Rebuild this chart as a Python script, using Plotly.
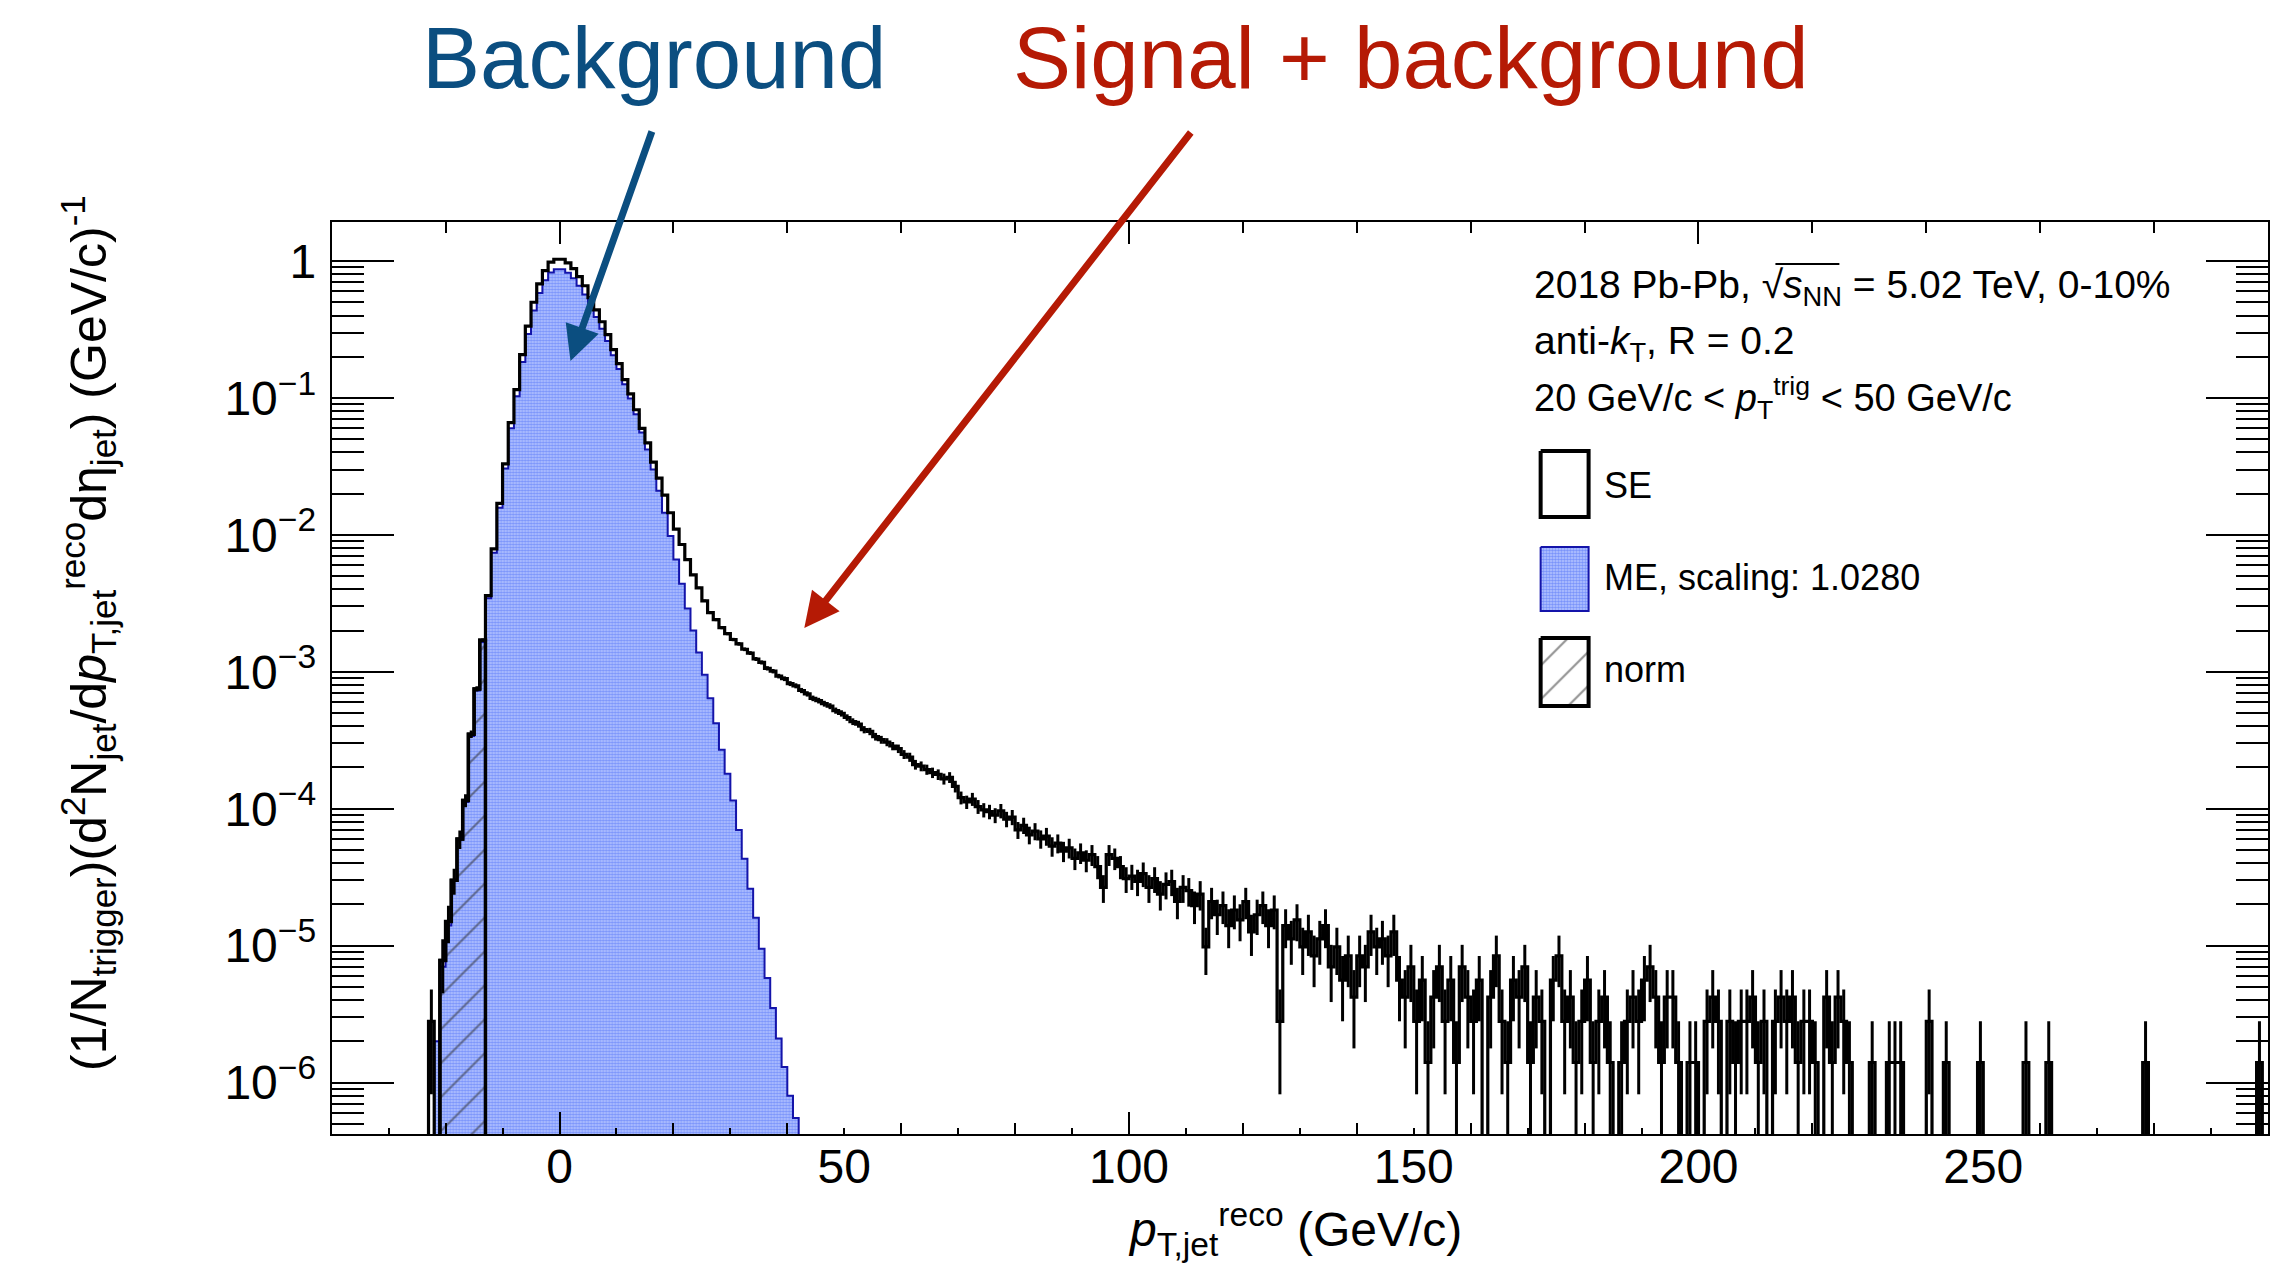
import numpy as np
import plotly.graph_objects as go

# ---------------------------------------------------------------------------
# data: per-trigger jet yields in 1 GeV/c bins
# ---------------------------------------------------------------------------
X_MIN, X_MAX = -40, 300
BIN_W = 1

# same-event spectrum, bins starting at -23 GeV/c
se_core_start = -23
se_core = [
    2.8e-6, 0.0, 7.8e-6, 1.5e-5, 3.0e-5, 6.0e-5, 1.15e-4, 3.5e-4, 7.5e-4, 1.7e-3,
    3.6e-3, 7.9e-3, 0.017, 0.033, 0.066, 0.115, 0.207, 0.335, 0.50, 0.68,
    0.85, 0.98, 1.03, 1.03, 0.97, 0.88, 0.77, 0.66, 0.54, 0.44,
    0.36, 0.29, 0.225, 0.178, 0.136, 0.107, 0.082, 0.060, 0.047, 0.034,
    0.026, 0.0195, 0.0145, 0.011, 0.0085, 0.0066, 0.0051, 0.0041, 0.0033, 0.0027,
    0.0024, 0.0021, 0.0019, 0.00172, 0.0016, 0.00146, 0.00137, 0.00124, 0.00117, 0.00106,
    0.00101, 0.00093, 0.00089, 0.00082, 0.00079, 0.00073, 0.00069, 0.00064,
]

# same-event tail from 45 GeV/c on, as jet counts per bin
se_tail_start = 45
count_unit = 1.4e-6  # per-trigger yield of one jet in one bin
se_tail_counts = [
    440, 418, 401, 372, 355, 331, 309, 296, 270, 262,
    240, 228, 219, 205, 196, 178, 170, 150, 146, 138,
    131, 127, 118, 121, 104, 86, 80, 84, 74, 70,
    68, 64, 69, 60, 62, 50, 54, 46, 49, 43,
    45, 38, 40, 35, 37, 31, 34, 30, 33, 27,
    19, 33, 31, 27, 22, 23, 21, 24, 19, 22,
    17, 20, 21, 15, 19, 18, 14, 17, 7, 15,
    12, 14, 10, 13, 11, 15, 9, 12, 14, 10,
    13, 2, 10, 8, 11, 7, 9, 6, 8, 10,
    5, 7, 4, 6, 3, 6, 5, 9, 7, 8,
    6, 9, 4, 3, 5, 2, 4, 1, 3, 5,
    2, 4, 1, 5, 3, 2, 4, 0, 3, 6,
    2, 1, 4, 3, 5, 1, 3, 2, 0, 4,
    6, 2, 3, 1, 2, 4, 1, 2, 3, 1,
    0, 1, 2, 3, 2, 4, 5, 3, 1, 3,
    3, 1, 0, 1, 1, 0, 2, 3, 2, 0,
    2, 1, 2, 2, 3, 1, 2, 0, 2, 3,
    2, 3, 1, 2, 2, 1, 0, 3, 1, 3,
    2, 1, 0, 0, 0, 1, 0, 0, 1, 1,
    1, 0, 0, 0, 0, 2, 0, 0, 1, 0,
    0, 0, 0, 0, 1, 0, 0, 0, 0, 0,
    0, 0, 1, 0, 0, 0, 1, 0, 0, 0,
    0, 0, 0, 0, 0, 0, 0, 0, 0, 0,
    0, 0, 0, 1, 0, 0, 0, 0, 0, 0,
    0, 0, 0, 0, 0, 0, 0, 0, 0, 0,
    0, 0, 0, 1, 0,
]

# mixed-event spectrum (scaled by 1.0280), bins starting at -22 GeV/c
me_start = -22
me_vals = [
    2.0e-6, 7.0e-6, 1.4e-5, 3.0e-5, 6.0e-5, 1.12e-4, 3.4e-4, 7.3e-4, 1.65e-3, 3.45e-3,
    7.4e-3, 0.0158, 0.0305, 0.060, 0.103, 0.183, 0.293, 0.435, 0.585, 0.725,
    0.825, 0.87, 0.87, 0.82, 0.75, 0.66, 0.57, 0.47, 0.39, 0.32,
    0.26, 0.205, 0.163, 0.126, 0.099, 0.076, 0.056, 0.042, 0.030, 0.021,
    0.0145, 0.0098, 0.0066, 0.0044, 0.0029, 0.0020, 0.00138, 0.00095, 0.00064, 0.00042,
    0.00027, 0.00018, 0.000115, 7.0e-5, 4.3e-5, 2.6e-5, 1.6e-5, 9.5e-6, 5.8e-6, 3.5e-6,
    2.1e-6, 1.3e-6, 8.0e-7, 5.5e-7,
]

# normalisation window (GeV/c)
norm_lo, norm_hi = -21, -13

x_tick_vals = [0, 50, 100, 150, 200, 250]
y_tick_exps = [-6, -5, -4, -3, -2, -1, 0]

# ---------------------------------------------------------------------------
# histogram assembly
# ---------------------------------------------------------------------------
edges = np.arange(X_MIN, X_MAX + BIN_W, BIN_W)
n_bins = len(edges) - 1
se = np.zeros(n_bins)
i0 = se_core_start - X_MIN
se[i0:i0 + len(se_core)] = se_core
i1 = se_tail_start - X_MIN
se[i1:i1 + len(se_tail_counts)] = np.array(se_tail_counts) * count_unit

me = np.zeros(n_bins)
j0 = me_start - X_MIN
me[j0:j0 + len(me_vals)] = me_vals

FLOOR = 1e-9  # far below the visible range on the log axis


def step_outline(lo_edges, vals):
    xs, ys = [], []
    for e, v in zip(lo_edges, vals):
        y = v if v > 0 else FLOOR
        xs += [e, e + BIN_W]
        ys += [y, y]
    return xs, ys


def closed_step(lo_edges, vals):
    xs, ys = step_outline(lo_edges, vals)
    return [xs[0]] + xs + [xs[-1], xs[0]], [FLOOR] + ys + [FLOOR, FLOOR]


lo = edges[:-1]
se_x, se_y = step_outline(lo, se)
me_mask = me > 0
me_x, me_y = closed_step(lo[me_mask], me[me_mask])
nmask = (lo >= norm_lo) & (lo < norm_hi)
nx, ny = closed_step(lo[nmask], se[nmask])

# statistical error bars of the same-event spectrum
ex, ey = [], []
for e, v in zip(lo, se):
    if v <= 0:
        continue
    err = np.sqrt(v / count_unit) * count_unit
    lo_v = v - err if v - err > 0 else FLOOR
    c = e + BIN_W / 2
    ex += [c, c, None]
    ey += [lo_v, v + err, None]

# ---------------------------------------------------------------------------
# figure
# ---------------------------------------------------------------------------
W, H = 2270, 1280
FONT = "Liberation Sans, Arial, Helvetica, sans-serif"
ME_DOTS = dict(shape=".", fgcolor="rgb(60,95,245)", bgcolor="rgb(185,200,255)",
               size=3, solidity=0.6)
ME_FILL = "rgb(140,162,250)"
ME_LINE = "rgb(20,20,170)"
HATCH = dict(shape="/", fgcolor="rgb(40,40,40)", bgcolor="rgba(0,0,0,0)",
             size=24, solidity=0.09)
BLUE = "#0b4e80"
RED = "#b51a05"

# plot frame in pixels
FL, FR, FT, FB = 332, 2270, 222, 1134
xdom = [FL / W, FR / W]
ydom = [1 - FB / H, 1 - FT / H]
yr = [-6.376, 0.285]

fig = go.Figure()

fig.add_trace(go.Scatter(
    x=me_x, y=me_y, mode="lines", fill="toself", fillcolor=ME_FILL,
    fillpattern=ME_DOTS, line=dict(color=ME_LINE, width=2), hoverinfo="skip"))
fig.add_trace(go.Scatter(
    x=nx, y=ny, mode="lines", fill="toself", fillcolor="rgba(0,0,0,0)",
    fillpattern=HATCH, line=dict(color="black", width=3.5), hoverinfo="skip"))
fig.add_trace(go.Scatter(
    x=se_x, y=se_y, mode="lines", line=dict(color="black", width=3.2),
    hoverinfo="skip"))
fig.add_trace(go.Scatter(
    x=ex, y=ey, mode="lines", line=dict(color="black", width=3),
    connectgaps=False, hoverinfo="skip"))

# empty trace so the tick-only overlay axis is drawn
fig.add_trace(go.Scatter(x=[None], y=[None], xaxis="x2", yaxis="y", showlegend=False))


# legend swatches drawn on a pixel canvas covering the whole page
def rect(x0, y0, x1, y1):
    return [x0, x1, x1, x0, x0], [y0, y0, y1, y1, y0]


sx, sy = rect(1542, 451, 1590, 517)
fig.add_trace(go.Scatter(x=sx, y=sy, mode="lines", line=dict(color="black", width=4),
                         xaxis="x4", yaxis="y4", hoverinfo="skip"))
mx, my = rect(1542, 547, 1590, 611)
fig.add_trace(go.Scatter(x=mx, y=my, mode="lines", fill="toself", fillcolor=ME_FILL,
                         fillpattern=ME_DOTS, line=dict(color=ME_LINE, width=2),
                         xaxis="x4", yaxis="y4", hoverinfo="skip"))
hx, hy = rect(1542, 638, 1590, 706)
fig.add_trace(go.Scatter(x=hx, y=hy, mode="lines", fill="toself", fillcolor="rgba(0,0,0,0)",
                         fillpattern=HATCH, line=dict(color="black", width=4),
                         xaxis="x4", yaxis="y4", hoverinfo="skip"))

ann = []


def text(x, y, s, size, color="black", xanchor="left", angle=0):
    ann.append(dict(x=x, y=y, xref="x4", yref="y4", text=s, showarrow=False,
                    xanchor=xanchor, yanchor="middle", textangle=angle,
                    font=dict(family=FONT, size=size, color=color)))


text(655, 57, "Background", 87, BLUE, "center")
text(1412, 57, "Signal + background", 87, RED, "center")

for tip, tail, col in [((571, 361), (653, 130), BLUE), ((805, 628), (1193, 131), RED)]:
    ann.append(dict(x=tip[0], y=tip[1], ax=tail[0], ay=tail[1], xref="x4", yref="y4",
                    axref="x4", ayref="y4", text="", showarrow=True, arrowhead=2,
                    arrowsize=1.0, arrowwidth=7, arrowcolor=col, standoff=0))

text(1533, 287, "2018 Pb-Pb, √<i>s</i><sub>NN</sub> = 5.02 TeV, 0-10%", 39)
text(1533, 343, "anti-<i>k</i><sub>T</sub>, R = 0.2", 39)
text(1533, 398, "20 GeV/c < <i>p</i><sub>T</sub><sup>trig</sup> < 50 GeV/c", 38)
text(1603, 485, "SE", 36)
text(1603, 577, "ME, scaling: 1.0280", 36)
text(1603, 669, "norm", 36)

text(88, 633, "(1/N<sub>trigger</sub>)(d<sup>2</sup>N<sub>jet</sub>/d<i>p</i>"
     "<sub>T,jet</sub><sup>reco</sup>dη<sub>jet</sub>) (GeV/c)<sup>-1</sup>",
     50, xanchor="center", angle=-90)
text(1296, 1229, "<i>p</i><sub>T,jet</sub><sup>reco</sup> (GeV/c)", 48, xanchor="center")

shapes = [dict(type="line", xref="x4", yref="y4", x0=1777, x1=1841, y0=264, y1=264,
               line=dict(color="black", width=2))]

minor_y = [k * 10.0 ** e for e in range(-7, 1) for k in range(2, 10)]
tick_common = dict(ticks="inside", tickcolor="black", tickwidth=2, showgrid=False,
                   zeroline=False)

fig.update_layout(
    width=W, height=H, margin=dict(l=0, r=0, t=0, b=0, pad=0),
    paper_bgcolor="white", plot_bgcolor="rgba(0,0,0,0)", showlegend=False,
    font=dict(family=FONT, color="black"),
    # labelled axis: labels every 50, short ticks at the odd tens (bottom only)
    xaxis=dict(domain=xdom, range=[X_MIN, X_MAX], anchor="y", showline=True,
               linecolor="black", linewidth=2, mirror=True, ticks="",
               tickmode="array", tickvals=x_tick_vals,
               ticktext=[str(v) for v in x_tick_vals],
               tickfont=dict(family=FONT, size=48, color="black"),
               ticklabelstandoff=-11, showgrid=False, zeroline=False,
               minor=dict(tickmode="array", tickvals=list(range(-30, 300, 20)),
                          ticks="inside", ticklen=6, tickwidth=2, tickcolor="black")),
    # long ticks every 100, medium every 20, mirrored on the top edge
    xaxis2=dict(domain=xdom, range=[X_MIN, X_MAX], overlaying="x", anchor="y",
                showticklabels=False, mirror="ticks", tickmode="array",
                tickvals=[0, 100, 200], ticklen=22,
                minor=dict(tickmode="array", tickvals=[v for v in range(-20, 300, 20) if v % 100],
                           ticks="inside", ticklen=11, tickwidth=2, tickcolor="black"),
                **tick_common),
    yaxis=dict(domain=ydom, type="log", range=yr, anchor="x", showline=True,
               linecolor="black", linewidth=2, mirror="ticks", ticklen=62,
               tickmode="array", tickvals=[10.0 ** e for e in y_tick_exps],
               ticktext=["1" if e == 0 else "10<sup>\u2212%d</sup>" % -e for e in y_tick_exps],
               tickfont=dict(family=FONT, size=48, color="black"),
               ticklabelstandoff=4,
               minor=dict(tickmode="array", tickvals=minor_y, ticks="inside",
                          ticklen=32, tickwidth=2, tickcolor="black"),
               **tick_common),
    xaxis4=dict(domain=[0, 1], range=[0, W], anchor="y4", visible=False, fixedrange=True),
    yaxis4=dict(domain=[0, 1], range=[H, 0], anchor="x4", visible=False, fixedrange=True),
    annotations=ann, shapes=shapes,
)

fig.write_html("out.html", include_plotlyjs=True, config={"displayModeBar": False})
